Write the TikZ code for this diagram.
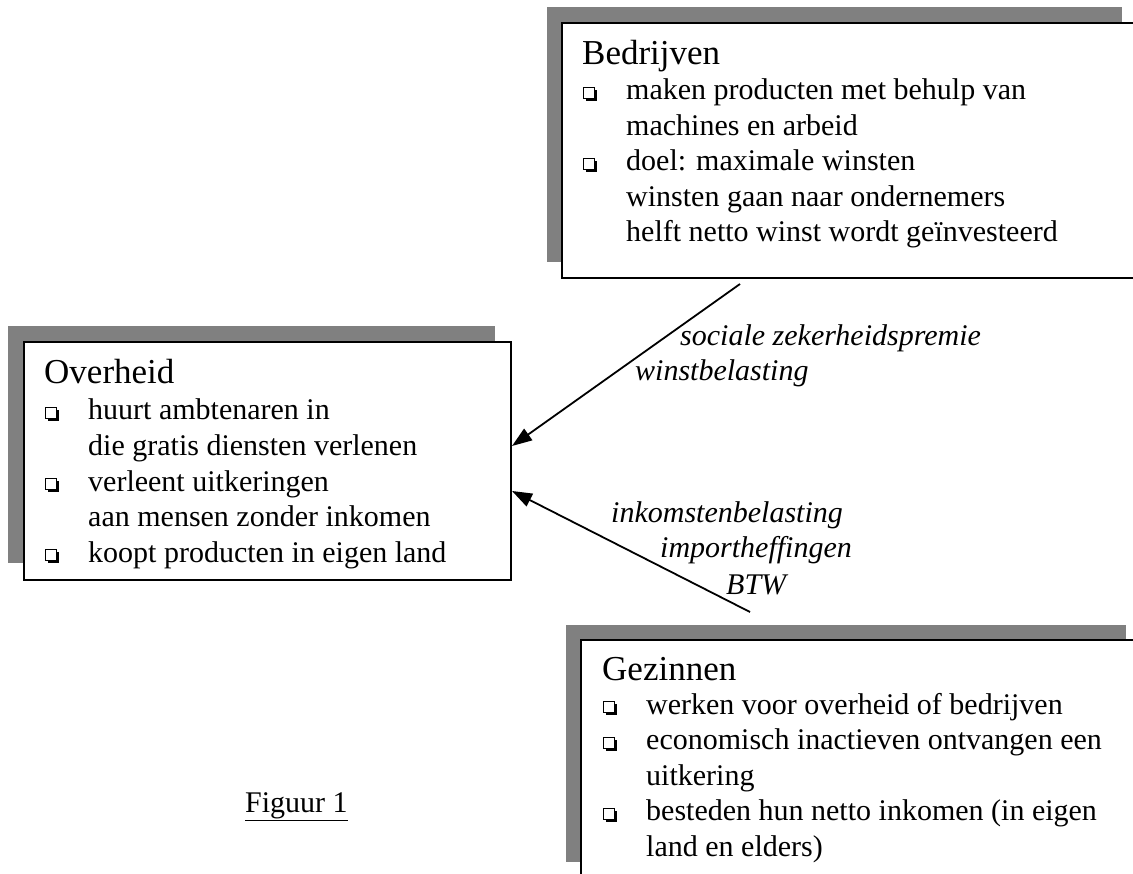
\documentclass[tikz,border=0pt]{standalone}
\usepackage{fontspec}
\setmainfont{Liberation Serif}
\usetikzlibrary{arrows.meta}
\definecolor{shadowgray}{RGB}{128,128,128}
\tikzset{
  x=1pt, y=-1pt,
  shadowbox/.style={fill=shadowgray, draw=none, inner sep=0pt, anchor=north west},
  mainbox/.style={fill=white, draw=black, line width=2pt, inner sep=0pt, anchor=north west},
  titletext/.style={anchor=base west, inner sep=0pt, font=\fontsize{35}{40}\selectfont},
  bodytext/.style={anchor=base west, inner sep=0pt, font=\fontsize{30}{35}\selectfont},
  labeltext/.style={anchor=base west, inner sep=0pt, font=\fontsize{30}{35}\selectfont\itshape},
  flow/.style={line width=1.8pt, -{Triangle[length=20pt,width=14pt]}},
  sqbullet/.pic={
    \fill[black] (2.5,1) rectangle (13.5,-10);
    \draw[fill=white, line width=0.9pt] (0.5,-1.5) rectangle (11,-12.5);
  }
}
\begin{document}
\begin{tikzpicture}
\useasboundingbox (0,0) rectangle (1133,874);
\clip (0,0) rectangle (1133,874);

% Bedrijven
\node[shadowbox, minimum width=575pt, minimum height=255pt] (bedrsh) at (547,7) {};
\node[mainbox, minimum width=590pt, minimum height=255pt] (bedr) at (561,22) {};
\node[titletext] (bedrt) at (582,65) {Bedrijven};
\pic at (583,100) {sqbullet};
\node[bodytext] (bedr1) at (626,100) {maken producten met behulp van};
\node[bodytext] (bedr2) at (626,135.5) {machines en arbeid};
\pic at (583,171) {sqbullet};
\node[bodytext] (bedr3) at (626,171) {doel: maximale winsten};
\node[bodytext] (bedr4) at (626,206.5) {winsten gaan naar ondernemers};
\node[bodytext] (bedr5) at (626,242) {helft netto winst wordt geïnvesteerd};

% Overheid
\node[shadowbox, minimum width=487pt, minimum height=237pt] (ovhsh) at (8,326) {};
\node[mainbox, minimum width=487pt, minimum height=238pt] (ovh) at (23,341) {};
\node[titletext] (ovht) at (44,384) {Overheid};
\pic at (45,420) {sqbullet};
\node[bodytext] (ovh1) at (88,420) {huurt ambtenaren in};
\node[bodytext] (ovh2) at (88,455.5) {die gratis diensten verlenen};
\pic at (45,491) {sqbullet};
\node[bodytext] (ovh3) at (88,491) {verleent uitkeringen};
\node[bodytext] (ovh4) at (88,526.5) {aan mensen zonder inkomen};
\pic at (45,562) {sqbullet};
\node[bodytext] (ovh5) at (88,562) {koopt producten in eigen land};

% Gezinnen
\node[shadowbox, minimum width=560pt, minimum height=237pt] (gezsh) at (566,625) {};
\node[mainbox, minimum width=570pt, minimum height=260pt] (gez) at (580,639) {};
\node[titletext] (gezt) at (602,680) {Gezinnen};
\pic at (603,714) {sqbullet};
\node[bodytext] (gez1) at (646,714) {werken voor overheid of bedrijven};
\pic at (603,749.5) {sqbullet};
\node[bodytext] (gez2) at (646,749.5) {economisch inactieven ontvangen een};
\node[bodytext] (gez3) at (646,785) {uitkering};
\pic at (603,820.5) {sqbullet};
\node[bodytext] (gez4) at (646,820.5) {besteden hun netto inkomen (in eigen};
\node[bodytext] (gez5) at (646,856) {land en elders)};

% connectors
\coordinate (a1s) at (740,284);
\coordinate (a1e) at (ovh.east |- 0,446);
\coordinate (a2s) at (750,612);
\coordinate (a2e) at (ovh.east |- 0,491);
\draw[flow] (a1s) -- (a1e);
\draw[flow] (a2s) -- (a2e);

% labels
\node[labeltext] (l1) at (680,346) {sociale zekerheidspremie};
\node[labeltext] (l2) at (635,381) {winstbelasting};
\node[labeltext] (l3) at (611,522) {inkomstenbelasting};
\node[labeltext] (l4) at (660,557) {importheffingen};
\node[labeltext] (l5) at (726,594) {BTW};

% caption
\node[bodytext] (cap) at (245,812) {\underline{Figuur 1}};
\end{tikzpicture}
\end{document}
